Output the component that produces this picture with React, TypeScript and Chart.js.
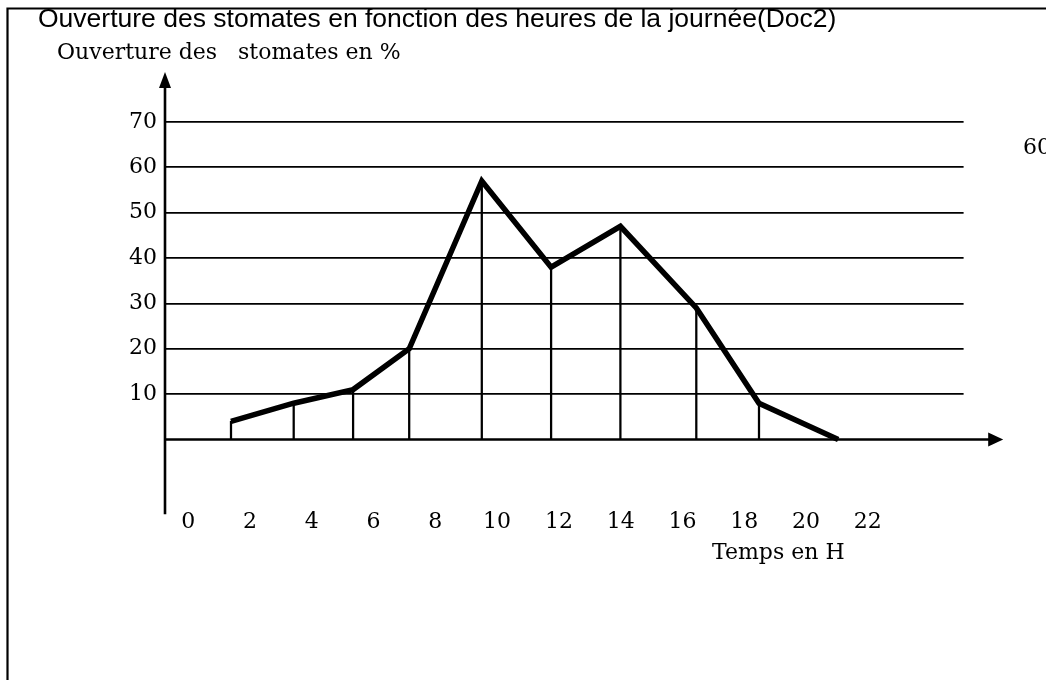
import React, { useEffect, useRef } from "react";
import { Chart, registerables } from "chart.js";

Chart.register(...registerables);

// ---- data ----
const hours = [2, 3.9, 5.7, 7.4, 9.6, 11.7, 13.8, 16.1, 18.0, 20.4];
const opening = [4, 8, 11, 20, 57, 38, 47, 29, 8, 0];
const yTickValues = [0, 10, 20, 30, 40, 50, 60, 70];
const yTickLabels = ["", "10", "20", "30", "40", "50", "60", "70"];
const xTickValues = [0, 2, 4, 6, 8, 10, 12, 14, 16, 18, 20, 22];
const xTickLabels = ["0", "2", "4", "6", "8", "10", "12", "14", "16", "18", "20", "22"];

const titleText = "Ouverture des stomates en fonction des heures de la journée(Doc2)";
const yCaption = "Ouverture des   stomates en %";
const xCaption = "Temps en H";
const strayLabel = "60";

const SERIF = "'DejaVu Serif', serif";

const decorPlugin = {
  id: "decor",
  beforeDatasetsDraw(chart: any) {
    const { ctx } = chart;
    const xs = chart.scales.x;
    const ys = chart.scales.y;
    const x0 = xs.getPixelForValue(0);
    const y0 = ys.getPixelForValue(0);
    ctx.save();
    ctx.strokeStyle = "#000";
    ctx.fillStyle = "#000";
    ctx.lineWidth = 2.6;
    // y axis
    const yTop = ys.getPixelForValue(81);
    const yBottom = ys.getPixelForValue(-16.5);
    ctx.beginPath();
    ctx.moveTo(x0, yBottom);
    ctx.lineTo(x0, yTop + 14);
    ctx.stroke();
    ctx.beginPath();
    ctx.moveTo(x0, yTop);
    ctx.lineTo(x0 - 6, yTop + 16);
    ctx.lineTo(x0 + 6, yTop + 16);
    ctx.closePath();
    ctx.fill();
    // x axis
    const xTip = xs.getPixelForValue(25.4);
    ctx.beginPath();
    ctx.moveTo(x0, y0);
    ctx.lineTo(xTip - 14, y0);
    ctx.stroke();
    ctx.beginPath();
    ctx.moveTo(xTip, y0);
    ctx.lineTo(xTip - 15, y0 - 7);
    ctx.lineTo(xTip - 15, y0 + 7);
    ctx.closePath();
    ctx.fill();
    ctx.restore();
  },
  afterDraw(chart: any) {
    const { ctx } = chart;
    ctx.save();
    ctx.fillStyle = "#000";
    ctx.font = `22px ${SERIF}`;
    ctx.textBaseline = "alphabetic";
    ctx.textAlign = "left";
    ctx.fillText(yCaption, 57, 59);
    ctx.fillText(xCaption, 712, 559);
    ctx.fillText(strayLabel, 1023, 154);
    // frame
    ctx.strokeStyle = "#000";
    ctx.lineWidth = 2.2;
    ctx.beginPath();
    ctx.moveTo(7.5, 680);
    ctx.lineTo(7.5, 8.5);
    ctx.lineTo(1046, 8.5);
    ctx.stroke();
    ctx.restore();
  },
};

export default function App() {
  const ref = useRef<HTMLCanvasElement | null>(null);
  useEffect(() => {
    document.body.style.margin = "0";
    const canvas = ref.current;
    if (!canvas) return;
    const points = hours.map((h, i) => ({ x: h, y: opening[i] }));
    const chart = new Chart(canvas, {
      data: {
        datasets: [
          {
            type: "line",
            label: "Ouverture",
            data: points,
            borderColor: "#000",
            borderWidth: 5.5,
            pointRadius: 0,
            tension: 0,
            borderJoinStyle: "miter",
            borderCapStyle: "butt",
            xAxisID: "x",
            yAxisID: "y",
            order: 0,
          } as any,
          {
            type: "bar",
            label: "drop",
            data: points,
            backgroundColor: "#000",
            barThickness: 1.6,
            xAxisID: "x",
            yAxisID: "y",
            order: 1,
          } as any,
        ],
      },
      options: {
        responsive: false,
        animation: false,
        layout: { padding: { left: 38, right: 82.4, top: 0, bottom: 147 } },
        plugins: {
          legend: { display: false },
          tooltip: { enabled: false },
          title: {
            display: true,
            text: titleText,
            align: "start",
            color: "#000",
            font: { family: "'Liberation Sans', Arial, sans-serif", size: 26.5, weight: "normal" },
            padding: { top: 3.8, bottom: 41 },
          },
        },
        scales: {
          x: {
            type: "linear",
            min: 0,
            max: 24.2,
            offset: false,
            display: false,
          },
          x2: {
            type: "linear",
            position: "bottom",
            min: -0.75,
            max: 25.1,
            offset: false,
            grid: { display: false },
            border: { display: false },
            afterBuildTicks: (s: any) => {
              s.ticks = xTickValues.map((v) => ({ value: v }));
            },
            afterFit: (s: any) => {
              s.height = 30;
            },
            ticks: {
              autoSkip: false,
              maxRotation: 0,
              padding: -2,
              color: "#000",
              font: { family: SERIF, size: 22 },
              callback: (v: any) => {
                const i = xTickValues.indexOf(Number(v));
                return i >= 0 ? xTickLabels[i] : "";
              },
            },
          },
          y: {
            type: "linear",
            min: -14,
            max: 80,
            border: { display: false },
            afterBuildTicks: (s: any) => {
              s.ticks = yTickValues.map((v) => ({ value: v }));
            },
            afterFit: (s: any) => {
              s.width = 127;
            },
            grid: {
              drawTicks: false,
              color: "#000",
              lineWidth: (c: any) => (c.tick && c.tick.value === 0 ? 0 : 1.8),
            },
            ticks: {
              padding: 8,
              color: "#000",
              font: { family: SERIF, size: 22 },
              callback: (v: any) => {
                const i = yTickValues.indexOf(Number(v));
                return i >= 0 ? yTickLabels[i] : "";
              },
            },
          },
        },
      } as any,
      plugins: [decorPlugin],
    });
    return () => chart.destroy();
  }, []);
  return (
    <div style={{ width: 1046, height: 680, position: "relative", background: "#fff" }}>
      <canvas ref={ref} width={1046} height={680} style={{ display: "block" }} />
    </div>
  );
}
